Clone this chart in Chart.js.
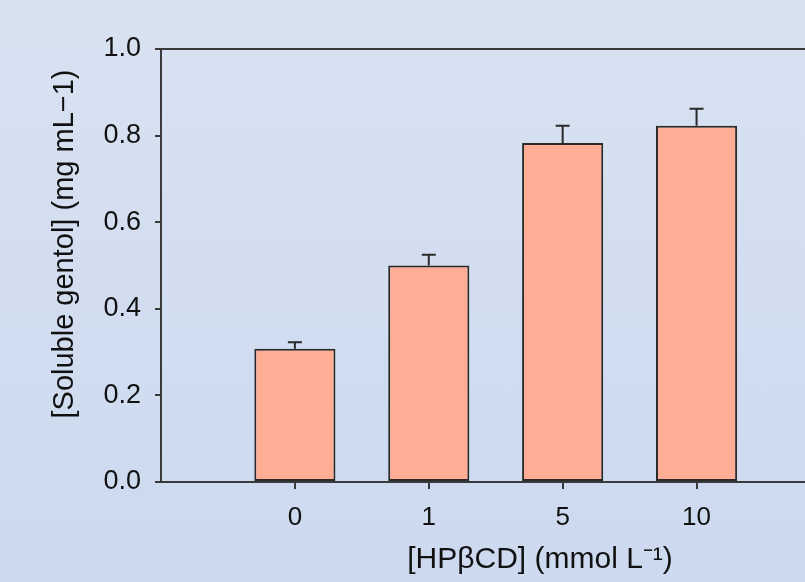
<!DOCTYPE html>
<html>
<head>
<meta charset="utf-8">
<script src="https://cdn.jsdelivr.net/npm/chart.js@4.4.1/dist/chart.umd.min.js"></script>
<style>
  html, body { margin: 0; padding: 0; overflow: hidden; }
  body { width: 805px; height: 582px; background: linear-gradient(#d8e2f1, #ccd9ef); }
  canvas { display: block; }
</style>
</head>
<body>
<canvas id="grafica" width="805" height="582"></canvas>
<script>
// datos
const categorias = ["0", "1", "5", "10"];
const posiciones = [1, 2, 3, 4];
const solubilidad = [0.308, 0.50, 0.783, 0.823];
const errores = [0.015, 0.025, 0.040, 0.039];
const ticksY = [0, 0.2, 0.4, 0.6, 0.8, 1.0];

const tituloY = "[Soluble gentol] (mg mL\u22121)";
const tituloX = "[HP\u03B2CD] (mmol L\u207B\u00B9)";

const colorEje = "#3a3a3a";
const fuente = "'Liberation Sans', Arial, sans-serif";

// barras de error (solo hacia arriba)
const barrasError = {
  id: "barrasError",
  afterDatasetsDraw(chart) {
    const ctx = chart.ctx;
    const x = chart.scales.x;
    const y = chart.scales.y;
    ctx.save();
    ctx.strokeStyle = "#2a2a2a";
    ctx.lineWidth = 2;
    solubilidad.forEach((v, i) => {
      const px = x.getPixelForValue(posiciones[i]);
      const y0 = y.getPixelForValue(v);
      const y1 = y.getPixelForValue(v + errores[i]);
      ctx.beginPath();
      ctx.moveTo(px, y0);
      ctx.lineTo(px, y1);
      ctx.moveTo(px - 7, y1);
      ctx.lineTo(px + 7, y1);
      ctx.stroke();
    });
    ctx.restore();
  }
};

// marcas del eje x y titulos de los ejes
const titulos = {
  id: "titulos",
  afterDraw(chart) {
    const ctx = chart.ctx;
    const x = chart.scales.x;
    ctx.save();
    ctx.strokeStyle = colorEje;
    ctx.lineWidth = 2;
    x.ticks.forEach((t, i) => {
      const px = Math.round(x.getPixelForTick(i));
      ctx.beginPath();
      ctx.moveTo(px, x.top);
      ctx.lineTo(px, x.top + 7);
      ctx.stroke();
    });
    ctx.fillStyle = "#111";
    ctx.textAlign = "center";
    ctx.textBaseline = "middle";
    ctx.font = "30px " + fuente;
    ctx.fillText(tituloX, 540, 560);
    ctx.font = "29px " + fuente;
    ctx.translate(65, 244);
    ctx.rotate(-Math.PI / 2);
    ctx.fillText(tituloY, 0, 0);
    ctx.restore();
  }
};

const grafica = document.getElementById("grafica").getContext("2d");

const chart = new Chart(grafica, {
  type: "bar",
  data: {
    datasets: [{
      data: posiciones.map((p, i) => ({ x: p, y: solubilidad[i] })),
      backgroundColor: "#ffad94",
      borderColor: "#2a2a2a",
      borderWidth: 2,
      borderSkipped: false,
      barPercentage: 0.606,
      categoryPercentage: 1
    }]
  },
  options: {
    responsive: false,
    animation: false,
    layout: { padding: { top: 49, right: 0, left: 0, bottom: 0 } },
    plugins: { legend: { display: false }, tooltip: { enabled: false } },
    scales: {
      x: {
        type: "linear",
        min: 0,
        max: 4.81,
        offset: false,
        afterBuildTicks: (scale) => { scale.ticks = posiciones.map(v => ({ value: v })); },
        afterFit: (scale) => { scale.height = 100; },
        ticks: {
          callback: (v) => categorias[posiciones.indexOf(v)],
          color: "#111",
          font: { family: fuente, size: 26 },
          padding: 13,
          maxRotation: 0
        },
        grid: { display: false, tickLength: 7 },
        border: { display: true, color: colorEje, width: 2 }
      },
      x2: {
        type: "linear",
        position: "top",
        min: 0,
        max: 4.81,
        ticks: { display: false },
        grid: { display: false },
        afterFit: (scale) => { scale.height = 0; },
        border: { display: true, color: colorEje, width: 2 }
      },
      y: {
        min: 0,
        max: 1,
        afterBuildTicks: (scale) => { scale.ticks = ticksY.map(v => ({ value: v })); },
        afterFit: (scale) => { scale.width = 161; },
        ticks: {
          callback: (v) => v.toFixed(1),
          color: "#111",
          font: { family: fuente, size: 27 },
          padding: 14
        },
        grid: { drawOnChartArea: false, tickLength: 6, color: colorEje, lineWidth: 2 },
        border: { display: true, color: colorEje, width: 2 }
      }
    }
  },
  plugins: [barrasError, titulos]
});
</script>
</body>
</html>
